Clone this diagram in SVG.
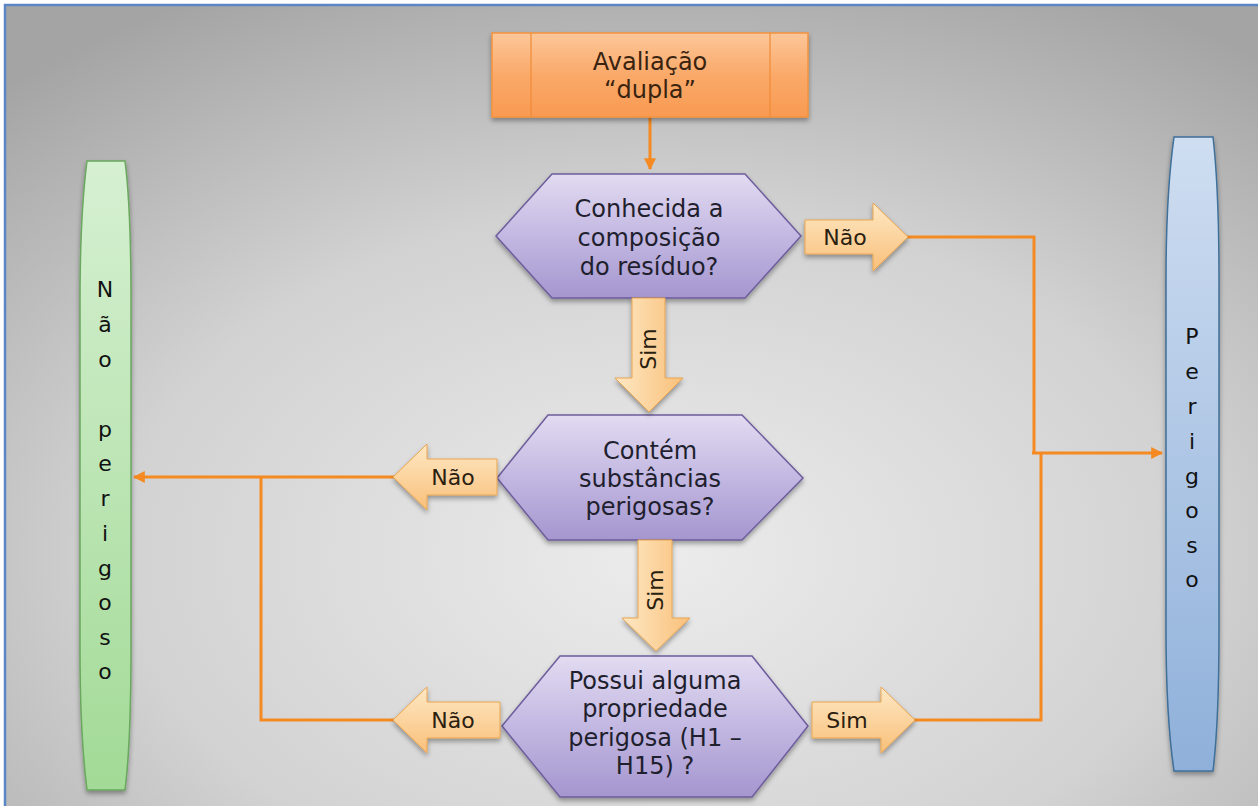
<svg xmlns="http://www.w3.org/2000/svg" width="1258" height="806" viewBox="0 0 1258 806">
<defs>
<radialGradient id="bg" cx="0.52" cy="0.68" r="0.78">
<stop offset="0" stop-color="#ececec"/>
<stop offset="0.55" stop-color="#d2d2d2"/>
<stop offset="1" stop-color="#a4a4a4"/>
</radialGradient>
<linearGradient id="gOrange" x1="0" y1="0" x2="0" y2="1">
<stop offset="0" stop-color="#fcc799"/>
<stop offset="0.5" stop-color="#faa969"/>
<stop offset="1" stop-color="#f89a52"/>
</linearGradient>
<linearGradient id="gPurple" x1="0" y1="0" x2="0" y2="1">
<stop offset="0" stop-color="#e2dbf1"/>
<stop offset="0.5" stop-color="#c3b8e2"/>
<stop offset="1" stop-color="#a596cf"/>
</linearGradient>
<linearGradient id="gArrow" x1="0" y1="0" x2="0" y2="1">
<stop offset="0" stop-color="#fee8c4"/>
<stop offset="1" stop-color="#f9c07a"/>
</linearGradient>
<linearGradient id="gArrowV" x1="0" y1="0" x2="1" y2="0">
<stop offset="0" stop-color="#fee8c4"/>
<stop offset="1" stop-color="#f9c07a"/>
</linearGradient>
<linearGradient id="gGreen" x1="0" y1="0" x2="0" y2="1">
<stop offset="0" stop-color="#d6f0d2"/>
<stop offset="1" stop-color="#a2da96"/>
</linearGradient>
<linearGradient id="gBlue" x1="0" y1="0" x2="0" y2="1">
<stop offset="0" stop-color="#cfdef1"/>
<stop offset="1" stop-color="#8fb0da"/>
</linearGradient>
<filter id="sh" x="-20%" y="-20%" width="140%" height="150%">
<feDropShadow dx="0" dy="3" stdDeviation="2.5" flood-color="#000" flood-opacity="0.35"/>
</filter>
<marker id="ah" viewBox="0 0 10 10" refX="9" refY="5" markerWidth="4" markerHeight="4" orient="auto" markerUnits="strokeWidth">
<path d="M0,0 L10,5 L0,10 z" fill="#f58a22"/>
</marker>
<style>
text{font-family:"DejaVu Sans","Verdana",sans-serif;fill:#1f1f2e;}
.t{font-size:24px;text-anchor:middle;}
.lbl{font-size:22px;text-anchor:middle;fill:#2a2010;}
.bar{font-size:22px;text-anchor:middle;fill:#111;}
.hex{fill:url(#gPurple);stroke:#6e5d9c;stroke-width:1.5;filter:url(#sh);}
.ba{fill:url(#gArrow);stroke:#eaa550;stroke-width:1;filter:url(#sh);}
.bav{fill:url(#gArrowV);stroke:#eaa550;stroke-width:1;filter:url(#sh);}
.con{fill:none;stroke:#f58a22;stroke-width:3;}
</style>
</defs>
<rect x="0" y="0" width="1258" height="806" fill="#ffffff"/>
<rect x="5" y="5" width="1258" height="810" fill="url(#bg)" stroke="#5b86c6" stroke-width="2.5"/>

<g id="connectors">
<path class="con" d="M650,117 V169" marker-end="url(#ah)"/>
<path class="con" d="M906,237 H1034 V453"/>
<path class="con" d="M913,720 H1041 V453"/>
<path class="con" d="M1032,453 H1162" marker-end="url(#ah)"/>
<path class="con" d="M396,477 H134" marker-end="url(#ah)"/>
<path class="con" d="M261,477 V720 H396"/>
</g>

<g id="avaliacao">
<rect x="492" y="33" width="316" height="84" fill="url(#gOrange)" stroke="#f5923e" stroke-width="1.5" filter="url(#sh)"/>
<line x1="531" y1="33" x2="531" y2="117" stroke="#f08a36" stroke-width="1.2"/>
<line x1="770" y1="33" x2="770" y2="117" stroke="#f08a36" stroke-width="1.2"/>
<text class="t" x="650" y="70" style="fill:#3a2410">Avaliação</text>
<text class="t" x="650" y="98" style="fill:#3a2410">“dupla”</text>
</g>

<g id="q1">
<polygon class="hex" points="496,236 552,174 745,174 801,236 745,298 552,298"/>
<text class="t" x="649" y="217">Conhecida a</text>
<text class="t" x="649" y="246">composição</text>
<text class="t" x="649" y="275">do resíduo?</text>
</g>

<g id="q2">
<polygon class="hex" points="497,478 548,415 742,415 803,478 742,540 548,540"/>
<text class="t" x="650" y="459">Contém</text>
<text class="t" x="650" y="487">substâncias</text>
<text class="t" x="650" y="515">perigosas?</text>
</g>

<g id="q3">
<polygon class="hex" points="502,726 560,656 752,656 808,726 752,797 560,797"/>
<text class="t" x="655" y="689">Possui alguma</text>
<text class="t" x="655" y="717">propriedade</text>
<text class="t" x="655" y="746">perigosa (H1 –</text>
<text class="t" x="655" y="774">H15) ?</text>
</g>

<g id="a-nao1">
<path class="ba" d="M805,220 H873 V203 L908,237 L873,271 V254 H805 Z"/>
<text class="lbl" x="845" y="245">Não</text>
</g>
<g id="a-sim1">
<path class="bav" d="M632,298 H665 V378 H683 L649,412 L615,378 H632 Z"/>
<text class="lbl" transform="translate(648,349) rotate(-90)" x="0" y="8">Sim</text>
</g>
<g id="a-nao2">
<path class="ba" d="M497,459 H427 V444 L393,477 L427,510 V495 H497 Z"/>
<text class="lbl" x="453" y="485">Não</text>
</g>
<g id="a-sim2">
<path class="bav" d="M638,540 H672 V618 H690 L656,651 L622,618 H638 Z"/>
<text class="lbl" transform="translate(655,590) rotate(-90)" x="0" y="8">Sim</text>
</g>
<g id="a-nao3">
<path class="ba" d="M500,702 H427 V687 L393,720 L427,753 V738 H500 Z"/>
<text class="lbl" x="453" y="728">Não</text>
</g>
<g id="a-sim3">
<path class="ba" d="M812,702 H881 V687 L915,720 L881,753 V738 H812 Z"/>
<text class="lbl" x="847" y="728">Sim</text>
</g>

<g id="nao-perigoso">
<path d="M87,161 H125 C130,200 131,250 131,300 V650 C131,700 130,750 125,790 H87 C82,750 80,700 80,650 V300 C80,250 82,200 87,161 Z" fill="url(#gGreen)" stroke="#6aa75e" stroke-width="1.5" filter="url(#sh)"/>
<text class="bar" x="105" y="297">N</text>
<text class="bar" x="105" y="332">ã</text>
<text class="bar" x="105" y="367">o</text>
<text class="bar" x="105" y="437">p</text>
<text class="bar" x="105" y="471">e</text>
<text class="bar" x="105" y="506">r</text>
<text class="bar" x="105" y="541">i</text>
<text class="bar" x="105" y="576">g</text>
<text class="bar" x="105" y="610">o</text>
<text class="bar" x="105" y="645">s</text>
<text class="bar" x="105" y="679">o</text>
</g>

<g id="perigoso">
<path d="M1174,137 H1213 C1218,180 1219,230 1219,280 V630 C1219,680 1218,730 1213,771 H1174 C1168,730 1166,680 1166,630 V280 C1166,230 1168,180 1174,137 Z" fill="url(#gBlue)" stroke="#3f6f98" stroke-width="1.5" filter="url(#sh)"/>
<text class="bar" x="1192" y="344">P</text>
<text class="bar" x="1192" y="379">e</text>
<text class="bar" x="1192" y="414">r</text>
<text class="bar" x="1192" y="449">i</text>
<text class="bar" x="1192" y="484">g</text>
<text class="bar" x="1192" y="518">o</text>
<text class="bar" x="1192" y="553">s</text>
<text class="bar" x="1192" y="587">o</text>
</g>
</svg>
